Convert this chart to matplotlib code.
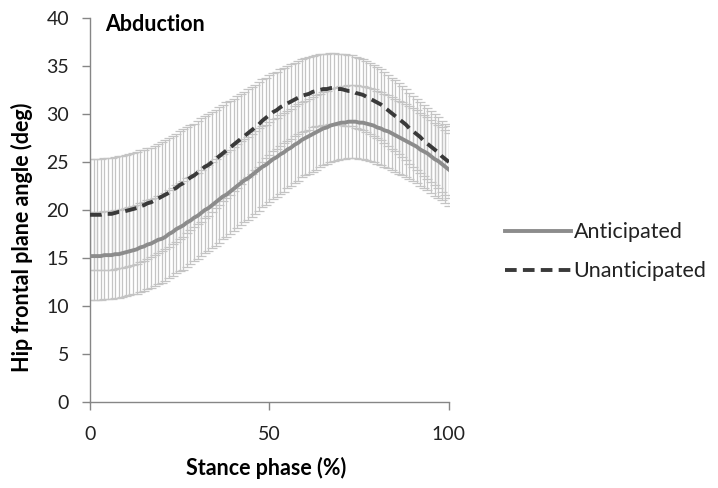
import numpy as np
import matplotlib.pyplot as plt

# stance phase 0..100 %
phase = list(range(0, 101))

anticipated = [
    15.2, 15.2, 15.2, 15.2, 15.3, 15.3, 15.3, 15.4, 15.4, 15.5, 15.6,
    15.7, 15.8, 15.9, 16.1, 16.2, 16.4, 16.5, 16.7, 16.9, 17.0,
    17.2, 17.5, 17.7, 18.0, 18.2, 18.4, 18.7, 18.9, 19.2, 19.4,
    19.7, 20.0, 20.2, 20.5, 20.8, 21.1, 21.4, 21.6, 21.9, 22.2,
    22.5, 22.8, 23.1, 23.3, 23.6, 23.9, 24.2, 24.5, 24.7, 25.0,
    25.3, 25.5, 25.8, 26.0, 26.3, 26.5, 26.8, 27.0, 27.3, 27.5,
    27.7, 27.9, 28.1, 28.3, 28.5, 28.6, 28.8, 28.9, 29.0, 29.1,
    29.1, 29.2, 29.2, 29.2, 29.1, 29.1, 29.0, 28.9, 28.8, 28.6,
    28.5, 28.3, 28.2, 28.0, 27.8, 27.6, 27.4, 27.2, 27.0, 26.8,
    26.6, 26.3, 26.1, 25.9, 25.6, 25.3, 25.1, 24.8, 24.5, 24.2]

anticipated_sd = [
    4.6, 4.6, 4.6, 4.6, 4.6, 4.6, 4.6, 4.6, 4.6, 4.6, 4.6,
    4.6, 4.6, 4.6, 4.6, 4.6, 4.6, 4.6, 4.6, 4.6, 4.6,
    4.6, 4.6, 4.6, 4.6, 4.6, 4.6, 4.6, 4.5, 4.5, 4.5,
    4.5, 4.5, 4.5, 4.5, 4.5, 4.5, 4.4, 4.4, 4.4, 4.4,
    4.4, 4.4, 4.3, 4.3, 4.3, 4.3, 4.3, 4.2, 4.2, 4.2,
    4.2, 4.1, 4.1, 4.1, 4.0, 4.0, 4.0, 4.0, 3.9, 3.9,
    3.9, 3.9, 3.9, 3.8, 3.8, 3.8, 3.8, 3.8, 3.8, 3.8,
    3.8, 3.8, 3.8, 3.8, 3.8, 3.8, 3.8, 3.8, 3.8, 3.8,
    3.8, 3.8, 3.8, 3.8, 3.8, 3.8, 3.8, 3.8, 3.8, 3.8,
    3.8, 3.8, 3.8, 3.8, 3.8, 3.8, 3.8, 3.8, 3.8, 3.8]

unanticipated = [
    19.5, 19.5, 19.5, 19.5, 19.6, 19.6, 19.6, 19.7, 19.8, 19.8, 19.9,
    20.0, 20.1, 20.2, 20.4, 20.5, 20.7, 20.8, 21.0, 21.2, 21.4,
    21.6, 21.8, 22.1, 22.3, 22.6, 22.8, 23.1, 23.4, 23.6, 23.9,
    24.2, 24.5, 24.7, 25.0, 25.3, 25.6, 25.9, 26.2, 26.5, 26.8,
    27.1, 27.4, 27.7, 28.0, 28.3, 28.6, 28.9, 29.3, 29.6, 29.9,
    30.2, 30.4, 30.7, 30.9, 31.1, 31.3, 31.5, 31.7, 31.9, 32.0,
    32.1, 32.3, 32.4, 32.5, 32.6, 32.6, 32.7, 32.7, 32.6, 32.6,
    32.5, 32.4, 32.4, 32.2, 32.1, 32.0, 31.8, 31.6, 31.4, 31.2,
    31.0, 30.7, 30.4, 30.1, 29.8, 29.5, 29.2, 28.9, 28.5, 28.2,
    27.9, 27.6, 27.2, 26.9, 26.6, 26.3, 26.0, 25.6, 25.3, 25.0]

unanticipated_sd = [
    5.8, 5.8, 5.8, 5.8, 5.8, 5.8, 5.8, 5.8, 5.8, 5.8, 5.8,
    5.8, 5.8, 5.8, 5.8, 5.8, 5.8, 5.7, 5.7, 5.7, 5.7,
    5.7, 5.7, 5.6, 5.6, 5.6, 5.6, 5.5, 5.5, 5.4, 5.4,
    5.4, 5.3, 5.3, 5.2, 5.1, 5.1, 5.0, 5.0, 4.9, 4.8,
    4.8, 4.7, 4.6, 4.6, 4.5, 4.4, 4.4, 4.3, 4.2, 4.2,
    4.1, 4.0, 4.0, 3.9, 3.9, 3.9, 3.8, 3.8, 3.8, 3.8,
    3.8, 3.7, 3.7, 3.7, 3.7, 3.7, 3.7, 3.7, 3.7, 3.7,
    3.7, 3.7, 3.7, 3.7, 3.7, 3.7, 3.7, 3.7, 3.7, 3.7,
    3.7, 3.7, 3.7, 3.7, 3.7, 3.7, 3.7, 3.7, 3.7, 3.7,
    3.7, 3.7, 3.7, 3.7, 3.7, 3.7, 3.7, 3.7, 3.7, 3.7]

plt.rcParams['font.family'] = ['Lato', 'DejaVu Sans']

fig = plt.figure(figsize=(7.18, 4.88), dpi=100)
ax = fig.add_axes([0.1253, 0.1762, 0.5, 0.7869])

bar_col = '#c4c4c4'
ax.errorbar(phase, anticipated, yerr=anticipated_sd, fmt='none', ecolor=bar_col,
            elinewidth=0.9, capsize=3.5, capthick=0.9, zorder=1)
ax.errorbar(phase, unanticipated, yerr=unanticipated_sd, fmt='none', ecolor=bar_col,
            elinewidth=0.9, capsize=3.5, capthick=0.9, zorder=1)
ax.plot(phase, anticipated, color='#8c8c8c', lw=2.8, label='Anticipated', zorder=3)
ax.plot(phase, unanticipated, color='#3a3a3a', lw=2.8, ls=(0, (3, 1.6)),
        label='Unanticipated', zorder=4)

ax.set_xlim(0, 100)
ax.set_ylim(0, 40)
ax.set_xticks([0, 50, 100])
ax.set_yticks(range(0, 41, 5))
for s in ['top', 'right']:
    ax.spines[s].set_visible(False)
for s in ['left', 'bottom']:
    ax.spines[s].set_color('#868686')
    ax.spines[s].set_linewidth(1.0)
    ax.spines[s].set_clip_on(False)
ax.tick_params(axis='both', colors='#868686', length=6, width=1.0,
               labelsize=14, labelcolor='#222222')
ax.tick_params(axis='y', pad=9)
ax.tick_params(axis='x', pad=11)

fig.text(266 / 718, 1 - 468 / 488, 'Stance phase (%)', fontsize=15.5,
         fontweight='bold', ha='center', va='center')
fig.text(22 / 718, 1 - 237 / 488, 'Hip frontal plane angle (deg)', fontsize=15.5,
         fontweight='bold', ha='center', va='center', rotation=90)
ax.text(4.2, 39.3, 'Abduction', fontsize=15.5, fontweight='bold', va='center', ha='left')

h, l = ax.get_legend_handles_labels()
fig.legend(h, l, loc='center left', bbox_to_anchor=(0.676, 0.484), frameon=False,
           fontsize=15.5, handlelength=3.1, handletextpad=0.1, labelspacing=0.9,
           labelcolor='#222222')

fig.savefig('out.png', dpi=100)
